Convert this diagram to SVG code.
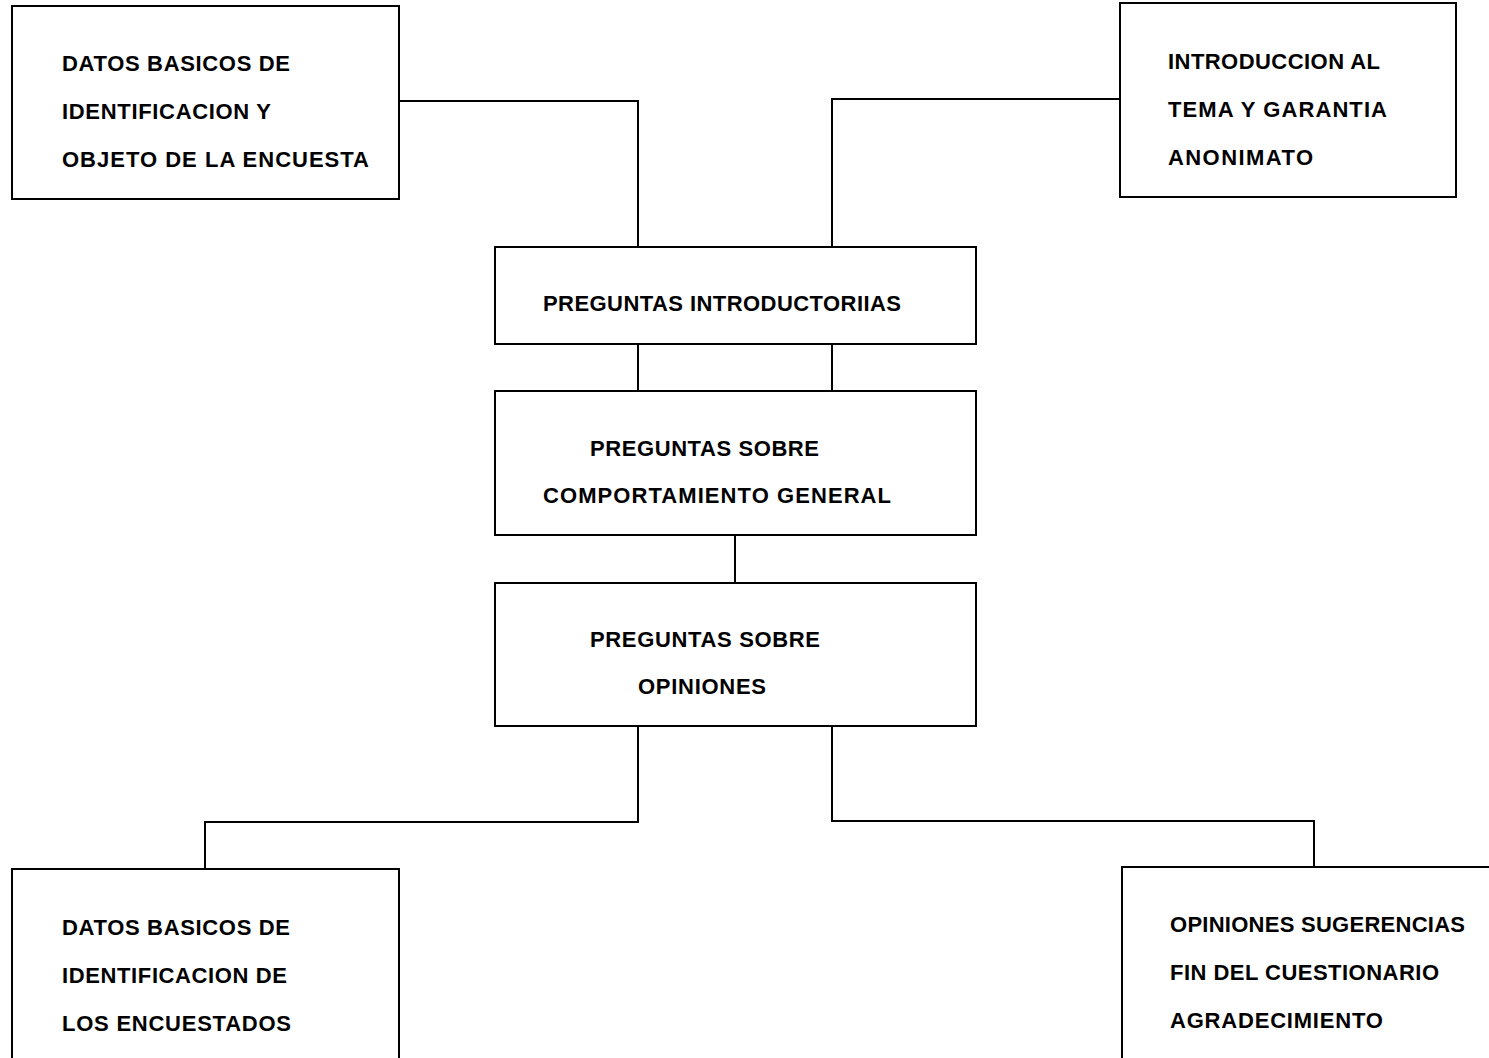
<svg xmlns="http://www.w3.org/2000/svg" width="1489" height="1058" viewBox="0 0 1489 1058">
<style>
.box{fill:none;stroke:#000;stroke-width:2}
.ln{fill:none;stroke:#000;stroke-width:2}
text{font-family:"Liberation Sans",Arial,sans-serif;font-weight:bold;font-size:22px;fill:#000}
</style>
<rect width="1489" height="1058" fill="#fff"/>
<g id="connectors">
<path class="ln" d="M399 101 H638 V247"/>
<path class="ln" d="M1120 99 H832 V247"/>
<path class="ln" d="M638 344 V391"/>
<path class="ln" d="M832 344 V391"/>
<path class="ln" d="M735 535 V583"/>
<path class="ln" d="M638 726 V822 H205 V869"/>
<path class="ln" d="M832 726 V821 H1314 V867"/>
</g>
<g id="n1">
<rect class="box" x="12" y="6" width="387" height="193"/>
<text x="62" y="71" textLength="228" lengthAdjust="spacing">DATOS BASICOS DE</text>
<text x="62" y="119" textLength="209" lengthAdjust="spacing">IDENTIFICACION Y</text>
<text x="62" y="167" textLength="307" lengthAdjust="spacing">OBJETO DE LA ENCUESTA</text>
</g>
<g id="n2">
<rect class="box" x="1120" y="3" width="336" height="194"/>
<text x="1168" y="69" textLength="212" lengthAdjust="spacing">INTRODUCCION AL</text>
<text x="1168" y="117" textLength="219" lengthAdjust="spacing">TEMA Y GARANTIA</text>
<text x="1168" y="165" textLength="145" lengthAdjust="spacing">ANONIMATO</text>
</g>
<g id="n3">
<rect class="box" x="495" y="247" width="481" height="97"/>
<text x="543" y="311" textLength="358" lengthAdjust="spacing">PREGUNTAS INTRODUCTORIIAS</text>
</g>
<g id="n4">
<rect class="box" x="495" y="391" width="481" height="144"/>
<text x="590" y="456" textLength="229" lengthAdjust="spacing">PREGUNTAS SOBRE</text>
<text x="543" y="503" textLength="348" lengthAdjust="spacing">COMPORTAMIENTO GENERAL</text>
</g>
<g id="n5">
<rect class="box" x="495" y="583" width="481" height="143"/>
<text x="590" y="647" textLength="230" lengthAdjust="spacing">PREGUNTAS SOBRE</text>
<text x="638" y="694" textLength="128" lengthAdjust="spacing">OPINIONES</text>
</g>
<g id="n6">
<path class="box" d="M12 1060 V869 H399 V1060"/>
<text x="62" y="935" textLength="228" lengthAdjust="spacing">DATOS BASICOS DE</text>
<text x="62" y="983" textLength="225" lengthAdjust="spacing">IDENTIFICACION DE</text>
<text x="62" y="1031" textLength="229" lengthAdjust="spacing">LOS ENCUESTADOS</text>
</g>
<g id="n7">
<path class="box" d="M1122 1060 V867 H1491"/>
<text x="1170" y="932" textLength="295" lengthAdjust="spacing">OPINIONES SUGERENCIAS</text>
<text x="1170" y="980" textLength="269" lengthAdjust="spacing">FIN DEL CUESTIONARIO</text>
<text x="1170" y="1028" letter-spacing="0.8">AGRADECIMIENTO</text>
</g>
</svg>
